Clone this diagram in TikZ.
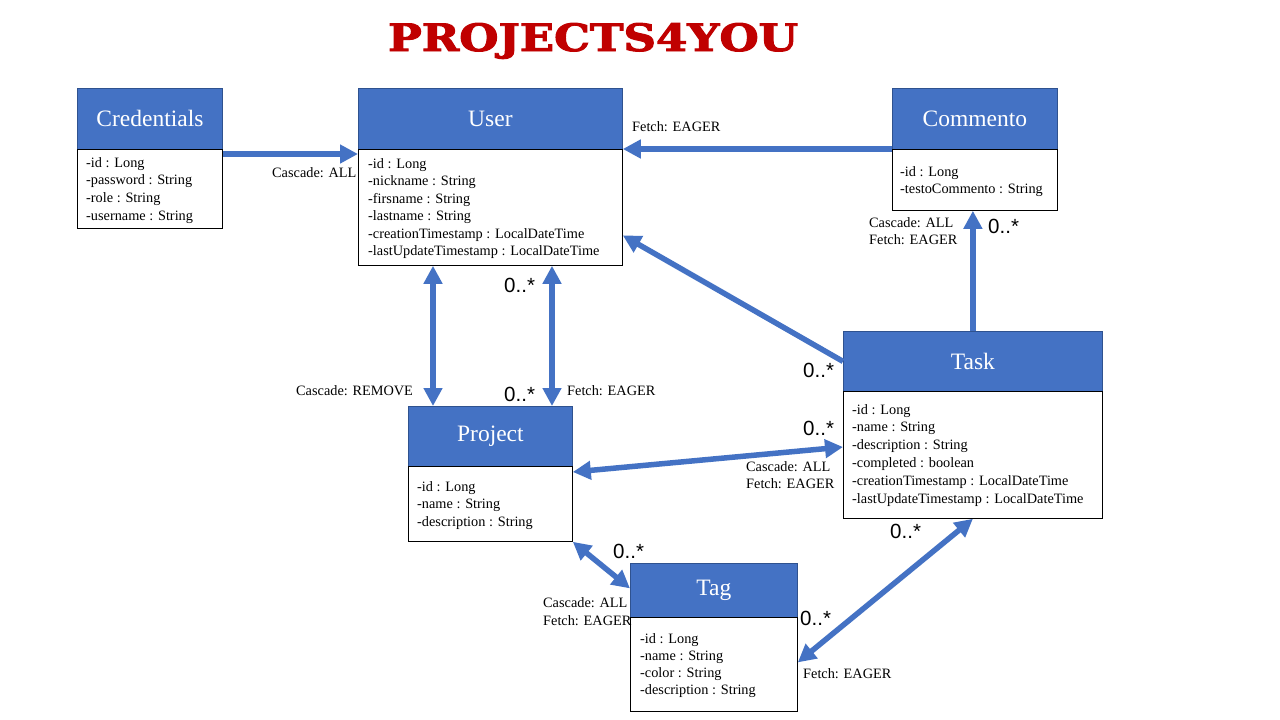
\documentclass[tikz,border=0pt]{standalone}
\usepackage{fontspec}
\setmainfont{Liberation Serif}
\newfontfamily\labsans{Liberation Sans}
\newfontfamily\titlefont{DejaVu Serif}[BoldFeatures={FakeBold=2.5}]
\usetikzlibrary{arrows.meta}
\definecolor{ublue}{HTML}{4472C4}
\definecolor{uborder}{HTML}{2F528F}
\definecolor{tred}{HTML}{C00000}
\tikzset{
  hdr/.style={draw=uborder, fill=ublue, line width=0.8pt, text=white,
    font=\fontsize{23.5}{27}\selectfont, inner sep=0pt, anchor=north west},
  bdy/.style={draw=black, line width=0.8pt, fill=white, inner sep=0pt, anchor=north west},
  attr/.style={font=\fontsize{14.3}{17}\selectfont, anchor=base west, inner sep=0pt},
  lab/.style={font=\fontsize{14.3}{17}\selectfont, anchor=base west, inner sep=0pt},
  mult/.style={font=\labsans\fontsize{20.5}{24}\selectfont, anchor=base west, inner sep=0pt},
  tip/.tip={Triangle[length=18pt,width=18pt]},
  arr/.style={draw=ublue, line width=5.5pt, -tip},
  darr/.style={draw=ublue, line width=5.5pt, tip-tip},
}
\begin{document}
\begin{tikzpicture}[x=1pt,y=-1pt]
\fill[white] (0,0) rectangle (1280,720);
\useasboundingbox (0,0) rectangle (1280,720);

% title
\node[text=tred, inner sep=0pt, anchor=base] (title) at (593,51)
  {\resizebox{410pt}{28pt}{\titlefont\bfseries PROJECTS4YOU}};

% Credentials
\node[hdr, minimum width=145pt, minimum height=61pt] (credh) at (77,88) {Credentials};
\node[bdy, minimum width=145pt, minimum height=79pt] (credb) at (77,149) {};
\foreach \t [count=\i] in {-id : Long, -password : String, -role : String, -username : String}
  \node[attr] (cred\i) at (86,{167+(\i-1)*17.7}) {\t};

% User
\node[hdr, minimum width=264pt, minimum height=61pt] (userh) at (358,88) {User};
\node[bdy, minimum width=264pt, minimum height=116pt] (userb) at (358,149) {};
\foreach \t [count=\i] in {-id : Long, -nickname : String, -firsname : String, -lastname : String,
  -creationTimestamp : LocalDateTime, -lastUpdateTimestamp : LocalDateTime}
  \node[attr] (user\i) at (368,{168+(\i-1)*17.5}) {\t};

% Commento
\node[hdr, minimum width=165pt, minimum height=61pt] (commh) at (892,88) {Commento};
\node[bdy, minimum width=165pt, minimum height=61pt] (commb) at (892,149) {};
\foreach \t [count=\i] in {-id : Long, -testoCommento : String}
  \node[attr] (comm\i) at (900,{176+(\i-1)*17}) {\t};

% Task
\node[hdr, minimum width=259pt, minimum height=60pt] (taskh) at (843,331) {Task};
\node[bdy, minimum width=259pt, minimum height=127pt] (taskb) at (843,391) {};
\foreach \t [count=\i] in {-id : Long, -name : String, -description : String, -completed : boolean,
  -creationTimestamp : LocalDateTime, -lastUpdateTimestamp : LocalDateTime}
  \node[attr] (task\i) at (852,{414+(\i-1)*17.8}) {\t};

% Project
\node[hdr, minimum width=164pt, minimum height=60pt] (projh) at (408,406) {Project};
\node[bdy, minimum width=164pt, minimum height=75pt] (projb) at (408,466) {};
\foreach \t [count=\i] in {-id : Long, -name : String, -description : String}
  \node[attr] (proj\i) at (417,{491+(\i-1)*17.5}) {\t};

% Tag
\node[hdr, minimum width=167pt, minimum height=54pt] (tagh) at (630,563) {Tag};
\node[bdy, minimum width=167pt, minimum height=94pt] (tagb) at (630,617) {};
\foreach \t [count=\i] in {-id : Long, -name : String, -color : String, -description : String}
  \node[attr] (tag\i) at (640,{643+(\i-1)*17.3}) {\t};

% connectors
\draw[arr] ([yshift=-5pt]credb.north east) -- ([yshift=-5pt]userb.north west);
\draw[arr] (commb.north west) -- (userb.north east);
\draw[arr] (taskh.west) -- ([yshift=-28pt]userb.east);
\coordinate (u1) at ([xshift=75pt]userb.south west);
\coordinate (u2) at ([xshift=194pt]userb.south west);
\draw[darr] (u1) -- (u1 |- projh.north);
\draw[darr] (u2) -- (u2 |- projh.north);
\draw[darr] ([yshift=-6pt]projb.north east) -- ([yshift=-56pt]taskb.north west);
\draw[darr] (projb.south east) -- ([yshift=2pt]tagh.west);
\draw[darr] (taskb.south) -- ([yshift=2pt]tagb.east);
\draw[arr] (taskh.north) -- (taskh.north |- commb.south);

% labels
\node[lab] (l1) at (272,177) {Cascade: ALL};
\node[lab] (l2) at (632,131) {Fetch: EAGER};
\node[lab] (l3) at (869,227) {Cascade: ALL};
\node[lab] (l4) at (869,244) {Fetch: EAGER};
\node[lab] (l5) at (296,395) {Cascade: REMOVE};
\node[lab] (l6) at (567,395) {Fetch: EAGER};
\node[lab] (l7) at (746,471) {Cascade: ALL};
\node[lab] (l8) at (746,488) {Fetch: EAGER};
\node[lab] (l9) at (543,607) {Cascade: ALL};
\node[lab] (l10) at (543,625) {Fetch: EAGER};
\node[lab] (l11) at (803,678) {Fetch: EAGER};

% multiplicities
\node[mult] (m1) at (988,233) {0..*};
\node[mult] (m2) at (504,292) {0..*};
\node[mult] (m3) at (504,401) {0..*};
\node[mult] (m4) at (803,377) {0..*};
\node[mult] (m5) at (803,435) {0..*};
\node[mult] (m6) at (890,538) {0..*};
\node[mult] (m7) at (613,558) {0..*};
\node[mult] (m8) at (800,625) {0..*};
\end{tikzpicture}
\end{document}
